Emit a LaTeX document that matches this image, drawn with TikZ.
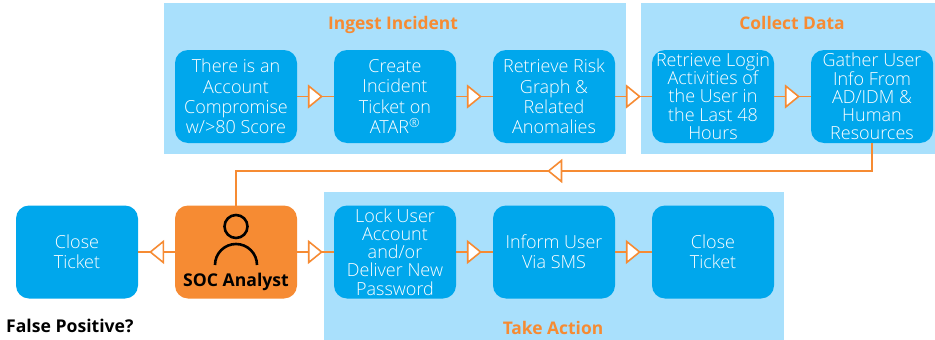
\documentclass[tikz,border=0pt]{standalone}
\usepackage{fontspec}
\setmainfont{Open Sans}[UprightFont=* Light,BoldFont=* Bold]
\usetikzlibrary{positioning,arrows.meta,decorations.markings}
\definecolor{panelblue}{HTML}{A9E0FC}
\definecolor{boxblue}{HTML}{00A7EC}
\definecolor{socorange}{HTML}{F68B33}

\begin{document}
\begin{tikzpicture}[
	x=1pt,
	y=1pt,
	panel/.style={
		shape=rectangle,
		fill=panelblue,
		inner sep=0pt,
		outer sep=0pt,
	},
	stage/.style={
		shape=rectangle,
		fill=boxblue,
		rounded corners=13pt,
		minimum width=122pt,
		minimum height=93pt,
		inner sep=0pt,
		outer sep=0pt,
		align=center,
		text=white,
		font=\fontsize{18}{20.3}\selectfont,
	},
	tight/.style={
		font=\fontsize{18}{18.2}\selectfont,
	},
	analyst/.style={
		stage,
		fill=socorange,
	},
	heading/.style={
		text=socorange,
		inner sep=0pt,
		anchor=base,
		font=\fontsize{17.4}{20}\selectfont\bfseries,
	},
	caption/.style={
		inner sep=0pt,
		font=\fontsize{17.6}{20}\selectfont\bfseries,
	},
	flowtip/.tip={Triangle[open,fill=white,length=15pt,width=24pt,line width=1.6pt]},
	flow/.style={
		draw=socorange,
		line width=1.6pt,
		postaction={decorate},
		decoration={markings, mark=at position #1 with {\arrow{flowtip}}},
	},
	flow/.default=0.7,
	figure/.style={
		draw=black,
		line width=2.6pt,
	},
	node distance=37pt,
]
\useasboundingbox (0,0) rectangle (935,-340);

% backgrounds
\node (ingest panel) [panel, minimum width=462pt, minimum height=151pt] at (395,-78.5) {};
\node (collect panel) [panel, minimum width=294pt, minimum height=151pt] at (788,-78.5) {};
\node (action panel) [panel, minimum width=460pt, minimum height=148pt] at (554,-266) {};

\node (ingest title) [heading] at (393,-30) {Ingest Incident};
\node (collect title) [heading] at (792,-30) {Collect Data};
\node (action title) [heading] at (553,-334) {Take Action};

% top row
\node (compromise) [stage] at (236,-96.5) {There is an\\Account\\Compromise\\w/>80 Score};
\node (ticket) [stage, right=of compromise] {Create\\Incident\\Ticket on\\ATAR\textsuperscript{®}};
\node (risk) [stage, right=of ticket] {Retrieve Risk\\Graph \&\\Related\\Anomalies};
\node (login) [stage, tight, right=of risk] {Retrieve Login\\Activities of\\the User in\\the Last 48\\Hours};
\node (gather) [stage, tight, right=of login] {Gather User\\Info From\\AD/IDM \&\\Human\\Resources};

% bottom row
\node (soc) [analyst] at (236,-252) {};
\node (soc label) [caption, anchor=base] at ([yshift=-34pt]soc.center) {SOC Analyst};
\node (close left) [stage, left=of soc] {Close\\Ticket};
\node (lock) [stage, tight, right=of soc] {Lock User\\Account\\and/or\\Deliver New\\Password};
\node (inform) [stage, right=of lock] {Inform User\\Via SMS};
\node (close right) [stage, right=of inform] {Close\\Ticket};

\node (false positive) [caption, anchor=west] at (6,-326) {False Positive?};

% person icon
\draw[figure] ([yshift=25.5pt]soc.center) circle (11.5pt);
\draw[figure] ([xshift=-21pt,yshift=-13pt]soc.center) arc (180:0:21pt);

\draw[flow] (compromise) -- (ticket);
\draw[flow] (ticket) -- (risk);
\draw[flow] (risk) -- (login);
\draw[flow] (login) -- (gather);
\draw[flow=0.505] (gather.south) -- ++(0,-28) -| (soc.north);
\draw[flow] (soc) -- (lock);
\draw[flow] (soc) -- (close left);
\draw[flow] (lock) -- (inform);
\draw[flow] (inform) -- (close right);
\end{tikzpicture}
\end{document}
